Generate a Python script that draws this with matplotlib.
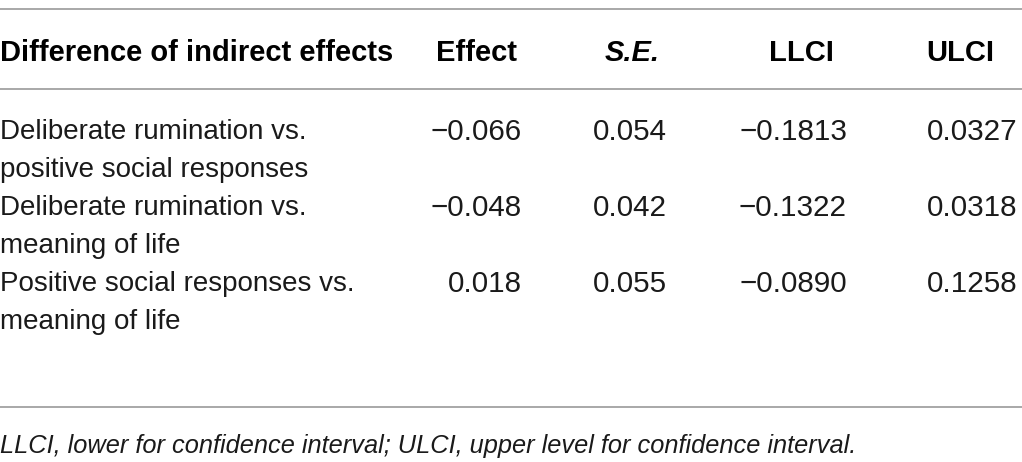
import matplotlib
matplotlib.use("Agg")
import matplotlib.pyplot as plt

# table content
headers = ["Difference of indirect effects", "Effect", "S.E.", "LLCI", "ULCI"]
comparisons = [
    ["Deliberate rumination vs.", "positive social responses"],
    ["Deliberate rumination vs.", "meaning of life"],
    ["Positive social responses vs.", "meaning of life"],
]
effect = [-0.066, -0.048, 0.018]
se = [0.054, 0.042, 0.055]
llci = [-0.1813, -0.1322, -0.0890]
ulci = [0.0327, 0.0318, 0.1258]
note = "LLCI, lower for confidence interval; ULCI, upper level for confidence interval."


def fmt(v, nd):
    return f"{v:.{nd}f}".replace("-", "\u2212")


plt.rcParams["font.family"] = ["Liberation Sans", "DejaVu Sans"]

fig = plt.figure(figsize=(10.22, 4.62), dpi=100)
ax = fig.add_axes([0, 0, 1, 1])
ax.set_xlim(0, 1022)
ax.set_ylim(462, 0)
ax.axis("off")

line_col = "#9a9a9a"
for y in (9, 89, 407):
    ax.axhline(y, color=line_col, lw=1.2)

fs = 20
hfs = 21
hdr_x = [476, 632, 801, 960]
ax.text(0, 50, headers[0], fontsize=hfs, fontweight="bold", ha="left",
        va="center_baseline")
for i, h in enumerate(headers[1:]):
    style = "italic" if h == "S.E." else "normal"
    ax.text(hdr_x[i], 50, h, fontsize=hfs, fontweight="bold", style=style,
            ha="center", va="center_baseline")

num_x = [522, 667, 847, 1017]
row_y = [129, 205, 281]
pitch = 38
for r, y in enumerate(row_y):
    for k, part in enumerate(comparisons[r]):
        ax.text(0, y + k * pitch, part, fontsize=fs, ha="left",
                va="center_baseline", color="#1a1a1a")
    vals = [fmt(effect[r], 3), fmt(se[r], 3), fmt(llci[r], 4), fmt(ulci[r], 4)]
    for x, v in zip(num_x, vals):
        ax.text(x, y, v, fontsize=21.3, ha="right", va="center_baseline",
                color="#1a1a1a")

ax.text(0, 443, note, fontsize=18.3, style="italic", ha="left",
        va="center_baseline", color="#1a1a1a")

fig.savefig("out.png", dpi=100, facecolor="white")
